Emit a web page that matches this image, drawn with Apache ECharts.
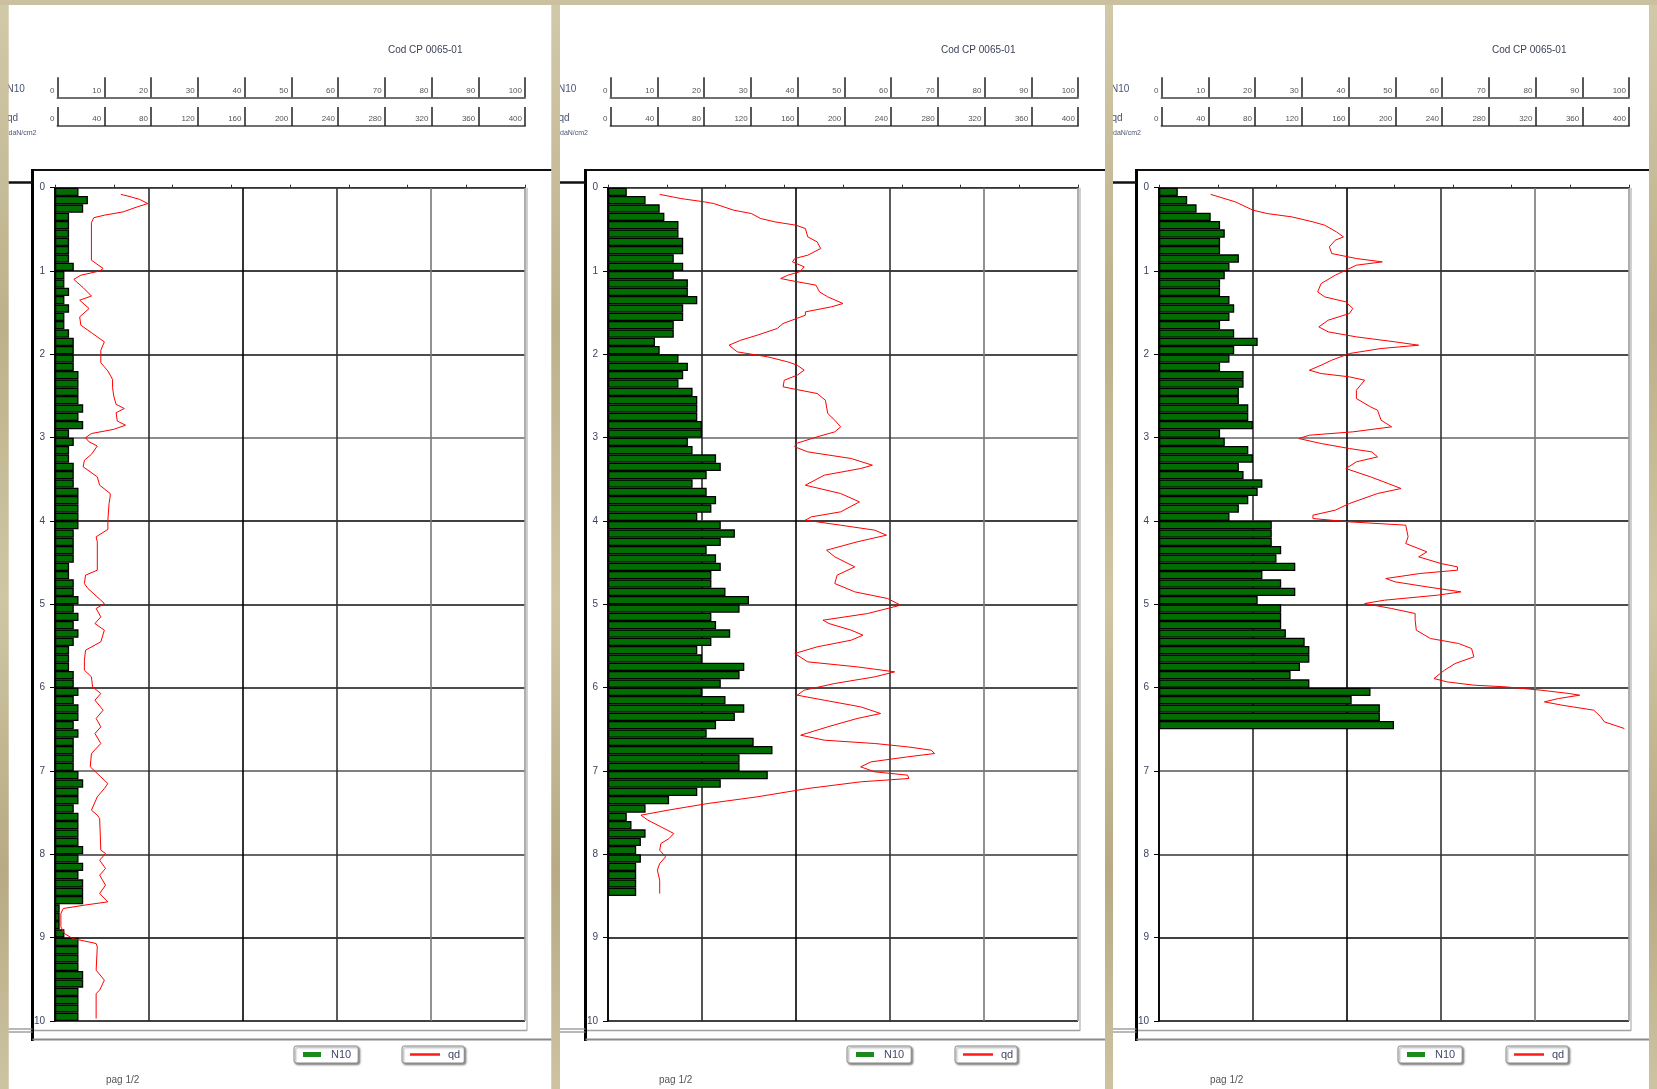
<!DOCTYPE html>
<html>
<head>
<meta charset="utf-8">
<title>CP 0065-01</title>
<script src="https://cdn.jsdelivr.net/npm/echarts/dist/echarts.min.js"></script>
<style>
  html, body { margin: 0; padding: 0; width: 1657px; height: 1089px; overflow: hidden; }
  body {
    background-color: #c7bc98;
    background-image:
      radial-gradient(circle at 15% 20%, rgba(255, 250, 228, 0.35), transparent 40%),
      radial-gradient(circle at 80% 70%, rgba(110, 95, 60, 0.25), transparent 35%),
      linear-gradient(180deg, #d2c9a9 0%, #bdb18b 30%, #d0c6a4 55%, #b7aa84 80%, #cdc3a1 100%);
  }
  #chart { width: 1657px; height: 1089px; }
</style>
</head>
<body>
<div id="chart"></div>
<script>
// 10 cm depth classes of the penetration test (0.0 ... 9.9 m)
const depthClasses = Array.from({ length: 100 }, (_, i) => (i / 10).toFixed(1));

// N10 blow counts, one value per 10 cm, from the surface down
const n10Sheet1 = [
  5, 7, 6, 3, 3, 3, 3, 3, 3, 4,
  2, 2, 3, 2, 3, 2, 2, 3, 4, 4,
  4, 4, 5, 5, 5, 5, 6, 5, 6, 3,
  4, 3, 3, 4, 4, 4, 5, 5, 5, 5,
  5, 4, 4, 4, 4, 3, 3, 4, 4, 5,
  4, 5, 4, 5, 4, 3, 3, 3, 4, 4,
  5, 4, 5, 5, 4, 5, 4, 4, 4, 4,
  5, 6, 5, 5, 4, 5, 5, 5, 5, 6,
  5, 6, 5, 6, 6, 6, 1, 1, 1, 2,
  5, 5, 5, 5, 6, 6, 5, 5, 5, 5
];
const n10Sheet2 = [
  4, 8, 11, 12, 15, 15, 16, 16, 14, 16,
  14, 17, 17, 19, 16, 16, 14, 14, 10, 11,
  15, 17, 16, 15, 18, 19, 19, 19, 20, 20,
  17, 18, 23, 24, 21, 18, 21, 23, 22, 19,
  24, 27, 24, 21, 23, 24, 22, 22, 25, 30,
  28, 22, 23, 26, 22, 19, 20, 29, 28, 24,
  20, 25, 29, 27, 23, 21, 31, 35, 28, 28,
  34, 24, 19, 13, 8, 4, 5, 8, 7, 6,
  7, 6, 6, 6, 6
];
const n10Sheet3 = [
  4, 6, 8, 11, 13, 14, 13, 13, 17, 15,
  14, 13, 13, 15, 16, 15, 13, 16, 21, 16,
  15, 13, 18, 18, 17, 17, 19, 19, 20, 13,
  14, 19, 20, 17, 18, 22, 21, 19, 17, 15,
  24, 24, 24, 26, 25, 29, 22, 26, 29, 21,
  26, 26, 26, 27, 31, 32, 32, 30, 28, 32,
  45, 41, 47, 47, 50
];

// qd profiles: [qd (daN/cm2), depth (m)]
const qdSheet1 = [
  [56, 0.08], [62, 0.10], [72, 0.14], [79, 0.19], [70, 0.23], [58, 0.29], [42, 0.33], [33, 0.36],
  [31, 0.42], [31, 0.87], [41, 0.97], [38, 1.00], [22, 1.05], [16, 1.10], [24, 1.20], [31, 1.30],
  [21, 1.35], [29, 1.45], [21, 1.55], [22, 1.65], [32, 1.75], [42, 1.85], [39, 1.95], [39, 2.10],
  [45, 2.20], [49, 2.30], [49, 2.40], [50, 2.50], [52, 2.60], [59, 2.65], [52, 2.70], [53, 2.80],
  [60, 2.85], [50, 2.90], [31, 2.95], [26, 3.00], [29, 3.05], [36, 3.10], [31, 3.20], [25, 3.27],
  [24, 3.35], [36, 3.47], [38, 3.57], [47, 3.67], [47, 3.70], [46, 3.79], [45, 3.99], [45, 4.10],
  [35, 4.19], [36, 4.25], [36, 4.59], [26, 4.65], [25, 4.75], [28, 4.81], [39, 4.95], [42, 4.99],
  [35, 5.05], [39, 5.15], [34, 5.23], [42, 5.31], [39, 5.45], [26, 5.55], [25, 5.67], [25, 5.79],
  [31, 5.87], [32, 5.99], [39, 6.07], [34, 6.15], [41, 6.27], [35, 6.37], [39, 6.47], [34, 6.55],
  [39, 6.67], [31, 6.79], [30, 6.95], [39, 7.07], [45, 7.15], [42, 7.21], [36, 7.31], [31, 7.47],
  [36, 7.53], [38, 7.57], [39, 7.95], [43, 7.99], [38, 8.07], [43, 8.17], [38, 8.25], [43, 8.37],
  [38, 8.47], [45, 8.57], [25, 8.61], [7, 8.65], [5, 8.71], [5, 8.87], [8, 8.95], [15, 9.01],
  [35, 9.07], [36, 9.11], [35, 9.39], [42, 9.51], [38, 9.63], [35, 9.67], [35, 9.97]
];
const qdSheet2 = [
  [44, 0.08], [62, 0.13], [82, 0.17], [90, 0.19], [107, 0.27], [122, 0.31], [130, 0.37], [142, 0.41],
  [160, 0.45], [168, 0.49], [170, 0.59], [178, 0.65], [181, 0.73], [170, 0.81], [159, 0.85], [157, 0.89],
  [167, 0.95], [163, 1.01], [153, 1.05], [147, 1.09], [154, 1.11], [177, 1.17], [180, 1.25], [187, 1.31],
  [200, 1.39], [190, 1.43], [168, 1.49], [168, 1.53], [149, 1.63], [144, 1.69], [127, 1.77], [113, 1.83],
  [103, 1.89], [110, 1.97], [136, 2.03], [153, 2.09], [161, 2.13], [167, 2.19], [161, 2.25], [150, 2.31],
  [149, 2.39], [178, 2.47], [185, 2.55], [187, 2.71], [193, 2.79], [198, 2.87], [193, 2.93], [178, 2.99],
  [160, 3.07], [159, 3.11], [170, 3.17], [207, 3.25], [225, 3.33], [215, 3.37], [184, 3.45], [168, 3.57],
  [198, 3.67], [214, 3.77], [198, 3.89], [173, 3.95], [168, 3.99], [198, 4.05], [227, 4.11], [237, 4.17],
  [212, 4.25], [186, 4.35], [193, 4.43], [210, 4.55], [195, 4.65], [193, 4.75], [210, 4.85], [238, 4.93],
  [249, 5.01], [221, 5.11], [183, 5.19], [188, 5.23], [207, 5.31], [217, 5.37], [207, 5.43], [178, 5.51],
  [159, 5.59], [170, 5.69], [212, 5.75], [244, 5.81], [227, 5.87], [193, 5.95], [167, 6.03], [161, 6.09],
  [184, 6.15], [215, 6.23], [232, 6.31], [212, 6.37], [187, 6.47], [164, 6.57], [184, 6.63], [227, 6.67],
  [255, 6.71], [275, 6.75], [278, 6.79], [255, 6.83], [224, 6.89], [215, 6.95], [227, 7.01], [255, 7.05],
  [256, 7.09], [215, 7.13], [170, 7.21], [127, 7.31], [85, 7.39], [51, 7.47], [28, 7.53], [34, 7.59],
  [45, 7.67], [56, 7.75], [52, 7.81], [45, 7.87], [44, 7.95], [49, 8.03], [44, 8.11], [42, 8.19],
  [44, 8.31], [44, 8.47]
];
const qdSheet3 = [
  [44, 0.08], [65, 0.17], [80, 0.27], [92, 0.31], [113, 0.35], [131, 0.41], [141, 0.45], [151, 0.53],
  [157, 0.59], [150, 0.63], [145, 0.71], [147, 0.79], [168, 0.85], [190, 0.89], [168, 0.93], [159, 0.99],
  [150, 1.05], [138, 1.15], [135, 1.25], [141, 1.31], [159, 1.37], [165, 1.45], [162, 1.51], [144, 1.59],
  [136, 1.67], [144, 1.73], [168, 1.79], [201, 1.85], [221, 1.89], [189, 1.93], [162, 1.99], [147, 2.07],
  [138, 2.13], [128, 2.19], [138, 2.23], [162, 2.27], [175, 2.31], [168, 2.43], [168, 2.53], [180, 2.63],
  [186, 2.67], [189, 2.79], [198, 2.87], [165, 2.93], [128, 2.97], [119, 3.01], [138, 3.07], [162, 3.13],
  [181, 3.17], [186, 3.23], [168, 3.29], [159, 3.37], [180, 3.47], [195, 3.55], [206, 3.61], [186, 3.67],
  [162, 3.79], [150, 3.87], [131, 3.93], [131, 3.97], [162, 4.01], [210, 4.05], [212, 4.19], [210, 4.27],
  [228, 4.37], [221, 4.43], [240, 4.51], [254, 4.55], [254, 4.59], [222, 4.63], [193, 4.69], [201, 4.73],
  [228, 4.79], [257, 4.85], [237, 4.89], [192, 4.95], [175, 4.99], [198, 5.05], [218, 5.11], [218, 5.19],
  [219, 5.31], [231, 5.41], [255, 5.47], [266, 5.53], [268, 5.63], [252, 5.71], [243, 5.79], [234, 5.89],
  [245, 5.93], [268, 5.97], [295, 5.99], [325, 6.03], [349, 6.07], [358, 6.09], [340, 6.13], [328, 6.17],
  [343, 6.21], [370, 6.27], [376, 6.35], [379, 6.41], [396, 6.49]
];

// header scale ranges
const n10ScaleMax = 100;
const qdScaleMax = 400;

// sheet layout (page edges and plot origin, px)
const sheets = [
  { ox: 55,   pageL: 8.5,  pageR: 551.5, n10: n10Sheet1, qd: qdSheet1 },
  { ox: 608,  pageL: 560,  pageR: 1105,  n10: n10Sheet2, qd: qdSheet2 },
  { ox: 1159, pageL: 1113, pageR: 1649,  n10: n10Sheet3, qd: qdSheet3 }
];

const FONT = '"Liberation Sans", Arial, sans-serif';
const PLOT_TOP = 187.7, PLOT_H = 833.3, PLOT_W = 470;
const VGRID = ['#000', '#2a2a2a', '#000', '#333', '#777', '#9a9a9a'];
const HGRID = ['#222', '#000', '#111', '#666', '#000', '#111', '#111', '#555', '#333', '#000', '#000'];

const grid = [], xAxis = [], yAxis = [], series = [], legend = [], graphic = [];

function seg(x1, y1, x2, y2, stroke, w, z) {
  return { type: 'line', z: z || 50, silent: true, shape: { x1, y1, x2, y2 }, style: { stroke, lineWidth: w } };
}
function label(x, y, text, size, fill, align) {
  return { type: 'text', x, y, z: 60, silent: true,
    style: { text, fontSize: size, fontFamily: FONT, fill, align: align || 'left', verticalAlign: 'middle' } };
}

sheets.forEach((s) => {
  // white sheet
  graphic.push({ type: 'rect', z: -100, silent: true,
    shape: { x: s.pageL, y: 5, width: s.pageR - s.pageL, height: 1084 }, style: { fill: '#fff' } });

  // --- plot area ---
  const g = grid.length;
  grid.push({ left: s.ox, top: PLOT_TOP, width: PLOT_W, height: PLOT_H, containLabel: false, outerBoundsMode: 'none' });
  const xb = xAxis.length;
  xAxis.push({ gridIndex: g, type: 'value', min: 0, max: n10ScaleMax, interval: 20, position: 'bottom',
    axisLine: { show: false }, axisTick: { show: false }, axisLabel: { show: false },
    splitLine: { show: true, lineStyle: { color: VGRID, width: 1.6 } } });
  xAxis.push({ gridIndex: g, type: 'value', min: 0, max: qdScaleMax, interval: 50, position: 'top',
    axisLine: { show: true, onZero: false, lineStyle: { color: '#333', width: 1 } },
    axisTick: { show: true, inside: false, length: 3, lineStyle: { color: '#333', width: 1 } },
    axisLabel: { show: false }, splitLine: { show: false } });
  const yb = yAxis.length;
  yAxis.push({ gridIndex: g, type: 'category', data: depthClasses, inverse: true, show: false, boundaryGap: true });
  yAxis.push({ gridIndex: g, type: 'value', min: 0, max: 10, interval: 1, inverse: true, position: 'left',
    axisLine: { show: true, onZero: false, lineStyle: { color: '#000', width: 1.5 } },
    axisTick: { show: true, inside: false, length: 5, lineStyle: { color: '#000', width: 1 } },
    axisLabel: { show: true, margin: 10, fontSize: 10, fontFamily: FONT, color: '#3b4560', padding: [0, 0, 6, 0] },
    splitLine: { show: true, lineStyle: { color: HGRID, width: 1.6 } } });

  series.push({ type: 'bar', name: 'N10', xAxisIndex: xb, yAxisIndex: yb, data: s.n10,
    barCategoryGap: '0%', barGap: '0%', silent: true, z: 3,
    itemStyle: { color: '#006e00', borderColor: '#000', borderWidth: 1.3 } });
  series.push({ type: 'line', name: 'qd', xAxisIndex: xb + 1, yAxisIndex: yb + 1, data: s.qd,
    symbol: 'none', smooth: false, silent: true, z: 4,
    itemStyle: { color: '#ff0000' }, lineStyle: { color: '#ff0000', width: 1 } });

  // --- header scales ---
  const h1 = grid.length;
  grid.push({ left: s.ox + 2.5, top: 96.3, width: PLOT_W - 2.5, height: 1, containLabel: false, outerBoundsMode: 'none' });
  xAxis.push({ gridIndex: h1, type: 'value', min: 0, max: n10ScaleMax, interval: 10, position: 'bottom',
    axisLine: { show: true, onZero: false, lineStyle: { color: '#707070', width: 2 } },
    axisTick: { show: true, inside: true, length: 20, lineStyle: { color: '#222', width: 1.5 } },
    axisLabel: { show: true, inside: true, margin: 3, align: 'right', padding: [0, 3, 0, 0],
      fontSize: 8, fontFamily: FONT, color: '#555' },
    splitLine: { show: false } });
  yAxis.push({ gridIndex: h1, type: 'value', min: 0, max: 1, show: false });

  const h2 = grid.length;
  grid.push({ left: s.ox + 2.5, top: 125, width: PLOT_W - 2.5, height: 1, containLabel: false, outerBoundsMode: 'none' });
  xAxis.push({ gridIndex: h2, type: 'value', min: 0, max: qdScaleMax, interval: 40, position: 'bottom',
    axisLine: { show: true, onZero: false, lineStyle: { color: '#707070', width: 2 } },
    axisTick: { show: true, inside: true, length: 19, lineStyle: { color: '#222', width: 1.5 } },
    axisLabel: { show: true, inside: true, margin: 3, align: 'right', padding: [0, 3, 0, 0],
      fontSize: 8, fontFamily: FONT, color: '#555' },
    splitLine: { show: false } });
  yAxis.push({ gridIndex: h2, type: 'value', min: 0, max: 1, show: false });

  // --- legend boxes ---
  const boxStyle = {
    orient: 'horizontal', top: 1046, itemGap: 0, selectedMode: false,
    backgroundColor: '#fff', borderColor: '#8a8a8a', borderWidth: 1, borderRadius: 2,
    shadowColor: 'rgba(0,0,0,0.45)', shadowBlur: 2, shadowOffsetX: 1.5, shadowOffsetY: 1.5,
    textStyle: { fontSize: 11, fontFamily: FONT, color: '#3f4a66' }
  };
  legend.push(Object.assign({}, boxStyle, {
    left: s.ox + 239, itemWidth: 18, itemHeight: 5, padding: [3, 7, 3, 9],
    textStyle: Object.assign({}, boxStyle.textStyle, { padding: [0, 0, 0, 5] }),
    data: [{ name: 'N10', icon: 'rect', itemStyle: { color: '#1c8a1c', borderWidth: 0 } }]
  }));
  legend.push(Object.assign({}, boxStyle, {
    left: s.ox + 347, itemWidth: 30, itemHeight: 2.5, padding: [3, 4, 3, 8],
    textStyle: Object.assign({}, boxStyle.textStyle, { padding: [0, 0, 0, 3] }),
    data: [{ name: 'qd', icon: 'rect', itemStyle: { color: '#ff1a1a', borderWidth: 0 } }]
  }));

  // --- frame of the sheet ---
  const fl = s.ox - 22.5;
  graphic.push(seg(fl, 170, s.pageR, 170, '#111', 2));
  graphic.push(seg(fl, 169, fl, 1041, '#000', 3));
  graphic.push(seg(s.pageL, 182.5, fl, 182.5, '#111', 2.5));
  graphic.push(seg(s.pageL, 1029, fl, 1029, '#888', 1.2));
  graphic.push(seg(s.pageL, 1032, fl, 1032, '#888', 1.2));
  graphic.push(seg(fl + 1.5, 1030.5, s.ox + PLOT_W + 2, 1030.5, '#a0a0a0', 1.5));
  graphic.push(seg(s.ox + PLOT_W + 2, PLOT_TOP, s.ox + PLOT_W + 2, 1031, '#b0b0b0', 1.2));
  graphic.push(seg(fl, 1039.5, s.pageR, 1039.5, '#8a8a8a', 2));

  // --- texts ---
  graphic.push(label(s.ox + 333, 50, 'Cod CP 0065-01', 10, '#3a3f55'));
  graphic.push(label(s.pageL - 2, 89, 'N10', 10, '#4a5470'));
  graphic.push(label(s.pageL - 1.5, 118, 'qd', 10, '#4a5470'));
  graphic.push(label(s.pageL, 133, 'daN/cm2', 7, '#4a5470'));
  graphic.push(label(s.ox + 51, 1080, 'pag 1/2', 10, '#555'));
});

// stone margins between the sheets
const stone = new echarts.graphic.LinearGradient(0, 0, 0, 1, [
  { offset: 0, color: '#d2c9a9' }, { offset: 0.3, color: '#bdb18b' },
  { offset: 0.55, color: '#d0c6a4' }, { offset: 0.8, color: '#b7aa84' }, { offset: 1, color: '#cdc3a1' }
]);
[[0, 8.5], [551.5, 560], [1105, 1113], [1649, 1657]].forEach(([a, b]) => {
  graphic.push({ type: 'rect', z: 200, silent: true, shape: { x: a, y: 0, width: b - a, height: 1089 }, style: { fill: stone } });
});
graphic.push({ type: 'rect', z: 200, silent: true, shape: { x: 0, y: 0, width: 1657, height: 5 }, style: { fill: '#cbc1a0' } });

const chart = echarts.init(document.getElementById('chart'), null, { renderer: 'canvas', width: 1657, height: 1089 });
chart.setOption({
  backgroundColor: 'transparent',
  animation: false,
  tooltip: { show: false },
  grid, xAxis, yAxis, series, legend, graphic
});
</script>
</body>
</html>
